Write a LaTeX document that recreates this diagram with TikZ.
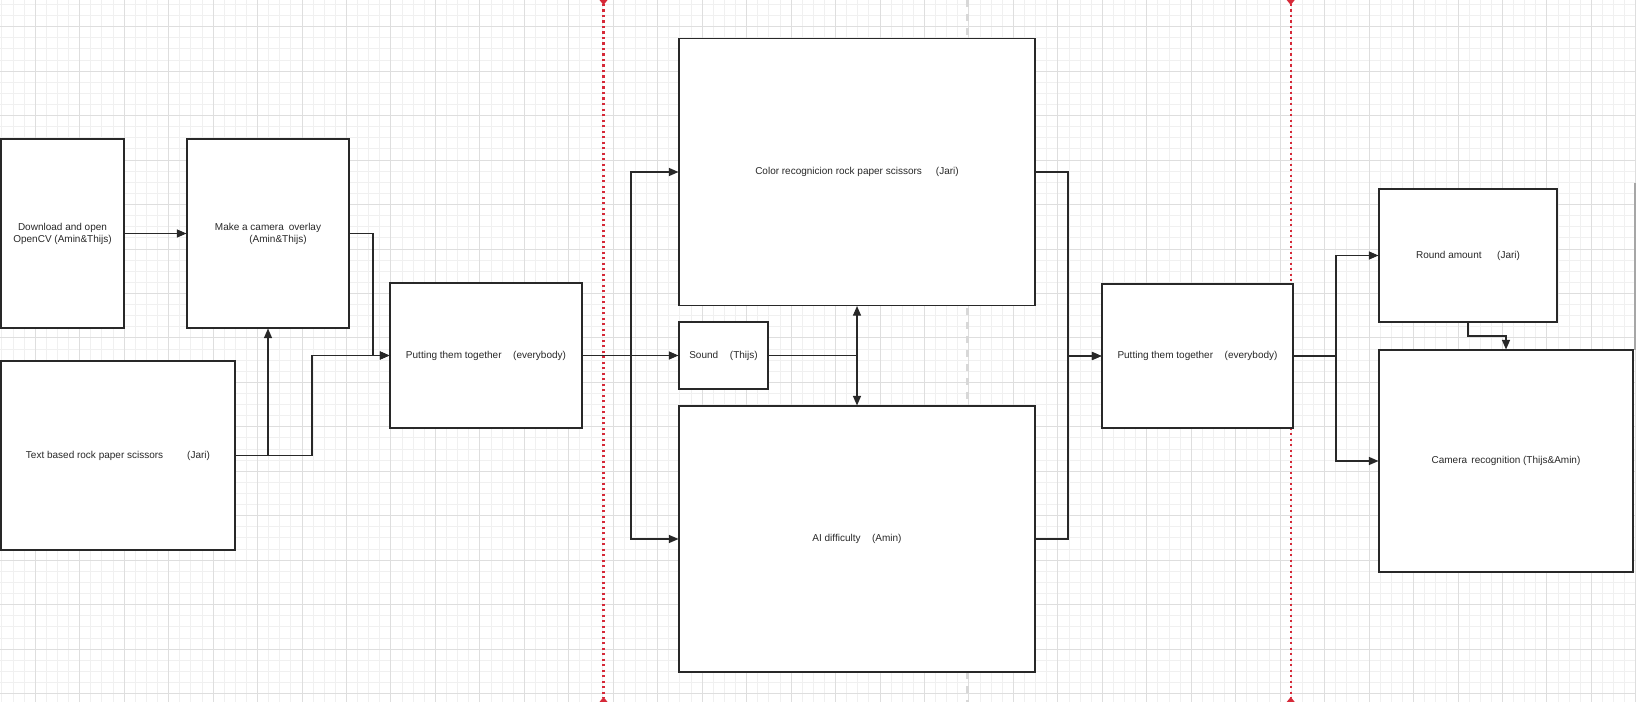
\documentclass[tikz,border=0pt]{standalone}
\usepackage{fontspec}
\setmainfont{Liberation Sans}
\usetikzlibrary{arrows.meta}
\definecolor{gridminor}{RGB}{240,240,240}
\definecolor{gridmajor}{RGB}{222,222,222}
\definecolor{pagered}{RGB}{214,41,56}
\definecolor{pagegray}{RGB}{216,216,216}
\definecolor{ink}{RGB}{40,40,40}
\begin{document}
\begin{tikzpicture}[x=1bp,y=-1bp,
  box/.style={draw=ink, line width=1.1bp, fill=white, inner sep=0pt, text=ink, align=center,
    font=\fontsize{10bp}{12bp}\selectfont},
  conn/.style={draw=ink, line width=1.1bp},
  arr/.style={conn, -{Triangle[length=9.5bp,width=8bp]}},
  darr/.style={conn, {Triangle[length=9.5bp,width=8bp]}-{Triangle[length=9.5bp,width=8bp]}},
  pagebreak/.style={draw=pagered, line width=2.2bp, dash pattern=on 2.2bp off 3.3bp},
  pagemark/.style={fill=pagered, draw=none}]
\useasboundingbox (0,0) rectangle (1636,702);
\fill[white] (0,0) rectangle (1636,702);
% grid
\foreach \i in {0,...,147} \draw[gridminor, line width=1bp] ({1.96+11.115*\i},0) -- ++(0,702);
\foreach \j in {0,...,63} \draw[gridminor, line width=1bp] (0,{4.47+11.115*\j}) -- ++(1636,0);
\foreach \i in {0,...,36} \draw[gridmajor, line width=1bp] ({35.3+44.46*\i},0) -- ++(0,702);
\foreach \j in {0,...,15} \draw[gridmajor, line width=1bp] (0,{26.7+44.46*\j}) -- ++(1636,0);
% page breaks
\draw[pagegray, line width=3bp, dash pattern=on 7bp off 7bp] (967,0) -- (967,702);
\draw[pagebreak] (603.5,4) -- (603.5,698);
\draw[pagebreak] (1290.7,4) -- (1290.7,698);
\foreach \px in {603.5,1290.7} {
  \fill[pagemark] (\px-4,0) -- (\px+4,0) -- (\px,5) -- cycle;
  \fill[pagemark] (\px-4,702) -- (\px+4,702) -- (\px,697) -- cycle;
}
\draw[gray!70, line width=2bp] (1634.5,183) -- (1634.5,350);
% boxes
\node[box, minimum width=123bp, minimum height=189bp] (dl) at (62.5,233.5)
  {Download and open\\OpenCV (Amin\&Thijs)};
\node[box, minimum width=162bp, minimum height=189bp] (cam) at (268,233.5)
  {Make a camera\hspace{5bp}overlay\\\hspace*{20bp}(Amin\&Thijs)};
\node[box, minimum width=234bp, minimum height=189bp] (txt) at (118,455.5)
  {Text based rock paper scissors\hspace{24bp}(Jari)};
\node[box, minimum width=192bp, minimum height=145bp] (put1) at (486,355.5)
  {Putting them together\hspace{11.6bp}(everybody)};
\node[box, minimum width=356bp, minimum height=267bp] (col) at (857,172)
  {Color recognicion rock paper scissors\hspace{14bp}(Jari)};
\node[box, minimum width=89bp, minimum height=67bp] (snd) at (723.5,355.5)
  {Sound\hspace{11.7bp}(Thijs)};
\node[box, minimum width=356bp, minimum height=266bp] (ai) at (857,539)
  {AI difficulty\hspace{11.5bp}(Amin)};
\node[box, minimum width=191bp, minimum height=144bp] (put2) at (1197.5,356)
  {Putting them together\hspace{11.6bp}(everybody)};
\node[box, minimum width=178bp, minimum height=133bp] (rnd) at (1468,255.5)
  {Round amount\hspace{15.6bp}(Jari)};
\node[box, minimum width=254bp, minimum height=222bp] (camr) at (1506,461)
  {Camera\hspace{4.3bp}recognition (Thijs\&Amin)};
% bend coordinates
\coordinate (b1) at (312,0);
\coordinate (b2) at (373,0);
\coordinate (b3) at (631,0);
\coordinate (b4) at (1068,0);
\coordinate (b5) at (1336,0);
\coordinate (b6) at (0,336);
% connectors
\draw[arr] (dl.east) -- (cam.west);
\draw[arr] (txt.east) -| (cam.south);
\draw[arr] (txt.east) -| (b1 |- put1.west) -- (put1.west);
\draw[arr] (cam.east) -| (b2 |- put1.west) -- (put1.west);
\draw[arr] (put1.east) -- (snd.west);
\draw[arr] (put1.east) -| (b3 |- col.west) -- (col.west);
\draw[arr] (put1.east) -| (b3 |- ai.west) -- (ai.west);
\draw[conn] (snd.east) -- (snd.east -| col.south);
\draw[darr] (col.south) -- (ai.north);
\draw[arr] (col.east) -| (b4 |- put2.west) -- (put2.west);
\draw[arr] (ai.east) -| (b4 |- put2.west) -- (put2.west);
\draw[arr] (put2.east) -| (b5 |- rnd.west) -- (rnd.west);
\draw[arr] (put2.east) -| (b5 |- camr.west) -- (camr.west);
\draw[arr] (rnd.south) -- (rnd.south |- b6) -| (camr.north);
\end{tikzpicture}
\end{document}
